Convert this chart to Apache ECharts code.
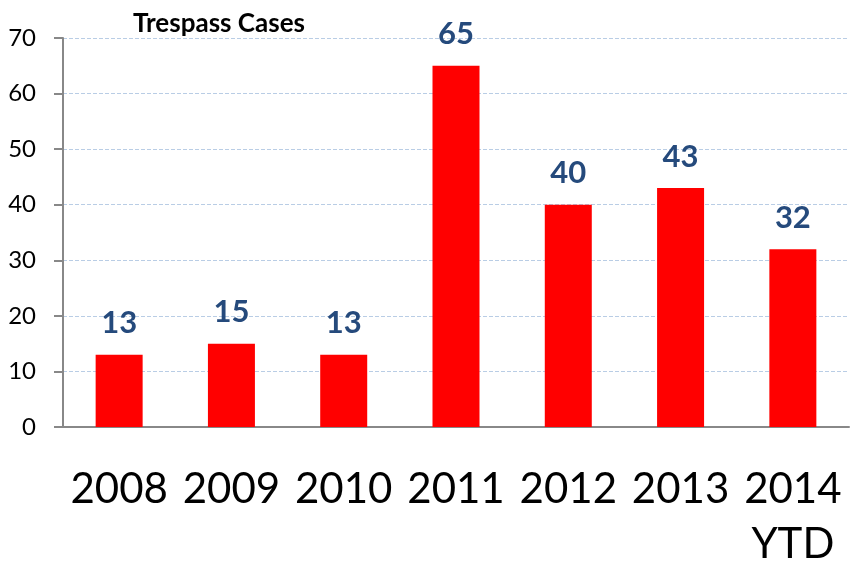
<!DOCTYPE html>
<html><head><meta charset="utf-8">
<script src="https://cdn.jsdelivr.net/npm/echarts@6/dist/echarts.min.js"></script>
<style>html,body{margin:0;padding:0;background:#fff}#c{width:850px;height:565px}</style>
</head><body><div id="c"></div>
<script>
const categories = ['2008','2009','2010','2011','2012','2013','2014\nYTD'];
const cases = [13, 15, 13, 65, 40, 43, 32];
const yTicks = {min: 0, max: 70, interval: 10};
const titleText = 'Trespass Cases';

const chart = echarts.init(document.getElementById('c'));
chart.setOption({
  animation: false,
  title: {text: titleText, left: 214, top: 6, textAlign: 'center',
    textStyle: {fontFamily: 'Lato', fontWeight: 'bold', fontSize: 26, color: '#000'}},
  grid: {left: 63, right: 1, top: 38, bottom: 138, containLabel: false, outerBoundsMode: 'none'},
  xAxis: {type: 'category', data: categories,
    axisLine: {lineStyle: {color: '#888', width: 2}},
    axisTick: {length: 14, lineStyle: {color: '#888', width: 2}},
    axisLabel: {fontFamily: 'Lato', fontSize: 42, color: '#000', margin: 35, lineHeight: 55, interval: 0}},
  yAxis: {type: 'value', min: yTicks.min, max: yTicks.max, interval: yTicks.interval,
    axisLine: {show: true, lineStyle: {color: '#888', width: 2}},
    axisTick: {show: true, length: 9, lineStyle: {color: '#888', width: 2}},
    axisLabel: {fontFamily: 'Lato', fontSize: 24, color: '#000', margin: 27},
    splitLine: {lineStyle: {color: '#b9cde5', type: 'dashed', width: 1}}},
  series: [{type: 'bar', data: cases, barWidth: 47,
    itemStyle: {color: '#ff0000'},
    label: {show: true, position: 'top', distance: 16, fontFamily: 'Lato', fontWeight: 'bold',
      fontSize: 31, color: '#254a7c'}}]
});
</script></body></html>
